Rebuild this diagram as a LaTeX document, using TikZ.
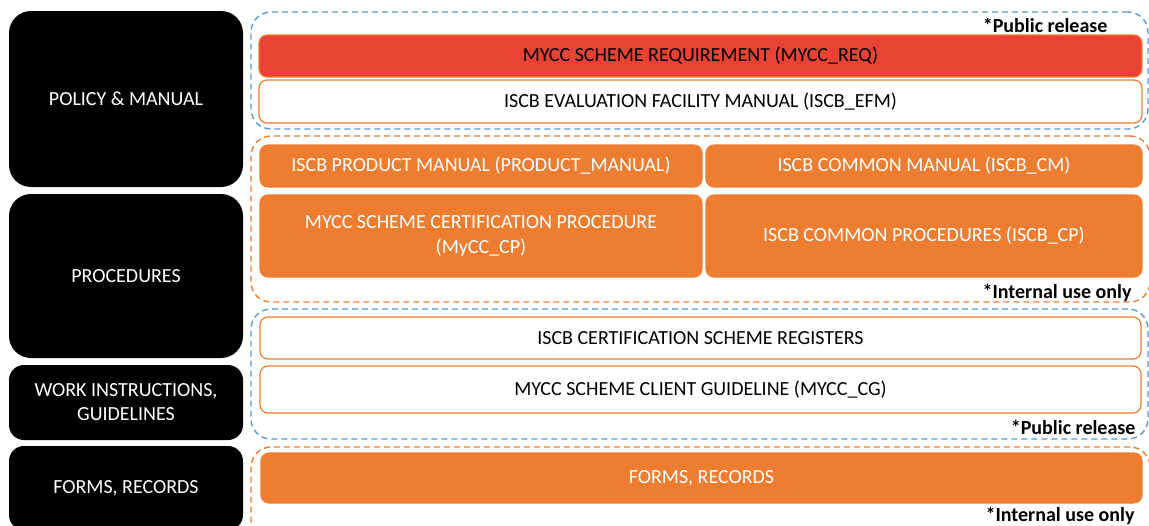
\documentclass[tikz,border=0pt]{standalone}
\usepackage{fontspec}
\setmainfont{Carlito}
\definecolor{docred}{HTML}{E84234}
\definecolor{docorange}{HTML}{ED7D31}
\definecolor{docblue}{HTML}{5B9BD5}
\tikzset{
  level/.style={fill=black, text=white, rounded corners=22, align=center,
    minimum width=234, font=\fontsize{20}{24}\selectfont},
  item/.style={draw=docorange, line width=1.2, fill=white, text=black,
    rounded corners=8, align=center, font=\fontsize{20}{25}\selectfont},
  solid item/.style={item, fill=docorange, text=white},
  public/.style={draw=docblue, line width=1.4, dash pattern=on 6 off 4,
    rounded corners=20},
  internal/.style={public, draw=docorange},
  tag/.style={anchor=east, font=\fontsize{20}{24}\selectfont\bfseries}
}
\begin{document}
\begin{tikzpicture}[x=1pt, y=-1pt]
  \path[use as bounding box, clip] (0,0) rectangle (1149,525);
  \fill[white] (0,0) rectangle (1149,525);
  % levels of documents
  \node[level, minimum height=176] (policy) at (126,99) {POLICY \& MANUAL};
  \node[level, minimum height=164] (proc) at (126,276) {PROCEDURES};
  \node[level, minimum height=75, rounded corners=15] (work) at (126,402.5)
    {WORK INSTRUCTIONS,\\GUIDELINES};
  \node[level, minimum height=84, rounded corners=15] (forms) at (126,488)
    {FORMS, RECORDS};
  % public release (top)
  \node[public, minimum width=897, minimum height=117] (pubA) at (699.5,70.5) {};
  \node[tag] (pubAtag) at (1111,25) {*Public release};
  \node[item, fill=docred, minimum width=883, minimum height=42] (req)
    at (700.5,56) {MYCC SCHEME REQUIREMENT (MYCC\_REQ)};
  \node[item, minimum width=883, minimum height=43] (efm)
    at (700.5,101.5) {ISCB EVALUATION FACILITY MANUAL (ISCB\_EFM)};
  % internal use (procedures)
  \node[internal, minimum width=899, minimum height=166] (intA) at (700.5,219) {};
  \node[solid item, minimum width=442, minimum height=42] (prodman)
    at (481,166) {ISCB PRODUCT MANUAL (PRODUCT\_MANUAL)};
  \node[solid item, minimum width=436, minimum height=42] (cm)
    at (924,166) {ISCB COMMON MANUAL (ISCB\_CM)};
  \node[solid item, minimum width=442, minimum height=82] (cp)
    at (481,236) {MYCC SCHEME CERTIFICATION PROCEDURE\\(MyCC\_CP)};
  \node[solid item, minimum width=436, minimum height=82] (iscbcp)
    at (924,236) {ISCB COMMON PROCEDURES (ISCB\_CP)};
  \node[tag] (intAtag) at (1135,293) {*Internal use only};
  % public release (bottom)
  \node[public, minimum width=897, minimum height=130] (pubB) at (699.5,374) {};
  \node[item, minimum width=881, minimum height=42] (reg)
    at (700.5,338) {ISCB CERTIFICATION SCHEME REGISTERS};
  \node[item, minimum width=881, minimum height=47] (cg)
    at (700.5,389.5) {MYCC SCHEME CLIENT GUIDELINE (MYCC\_CG)};
  \node[tag] (pubBtag) at (1139,427) {*Public release};
  % internal use (forms)
  \node[internal, minimum width=899, minimum height=93] (intB) at (700.5,493.5) {};
  \node[solid item, minimum width=881, minimum height=50] (formsbox)
    at (701.5,478) {FORMS, RECORDS};
  \node[tag] (intBtag) at (1138,516) {*Internal use only};
\end{tikzpicture}
\end{document}
